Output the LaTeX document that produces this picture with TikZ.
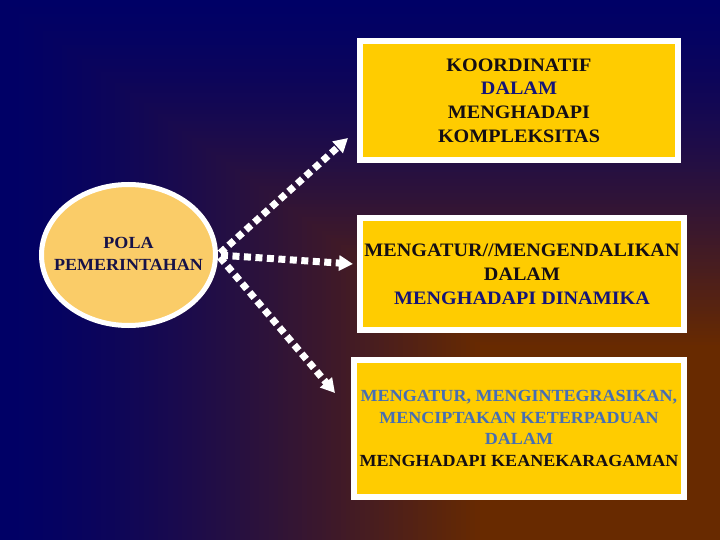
\documentclass[tikz,border=0pt]{standalone}
\usepackage{fontspec}
\setmainfont{Liberation Serif}
\newfontfamily\slidefont[FakeStretch=1.06]{Liberation Serif}
\usetikzlibrary{shapes.geometric,arrows.meta}
\definecolor{navybg}{RGB}{0,0,102}
\definecolor{brownbg}{RGB}{104,42,0}
\definecolor{boxyellow}{RGB}{255,204,0}
\definecolor{ellfill}{RGB}{250,204,104}
\definecolor{txtdark}{RGB}{20,14,20}
\definecolor{txtnavy}{RGB}{20,20,120}
\definecolor{txtblue}{RGB}{70,110,180}
\definecolor{txtpola}{RGB}{22,18,72}
\tikzset{
  infobox/.style={rectangle, draw=white, line width=6pt, fill=boxyellow, inner sep=0pt,
    align=center, text=txtdark, font=\slidefont\bfseries\fontsize{19}{23.7}\selectfont},
  polanode/.style={ellipse, draw=white, line width=5pt, fill=ellfill, inner sep=0pt},
  polatext/.style={align=center, inner sep=0pt, text=txtpola,
    font=\slidefont\bfseries\fontsize{17}{21.5}\selectfont},
  flow/.style={draw=white, line width=7pt, dash pattern=on 7pt off 4.5pt,
    -{Triangle[length=14pt 0, width=15pt 0]}, shorten <=3pt}
}
\begin{document}
\begin{tikzpicture}[x=1pt,y=-1pt]
\useasboundingbox (0,0) rectangle (720,540);
% background gradient
\fill[navybg] (0,0) rectangle (720,540);
\foreach \i in {1,...,100}{
  \pgfmathsetmacro\p{100*pow(\i/100,1.4)}
  \fill[brownbg!\p!navybg] ({4.8*\i},{3.45*\i}) rectangle (720,540);
}
% nodes
\node[polanode, minimum width=174pt, minimum height=141pt] (pola) at (128.5,255) {};
\node[polatext] (polalabel) at (128.5,254) {POLA\\PEMERINTAHAN};
\node[infobox, minimum width=318pt, minimum height=119pt] (b1) at (519,100.5)
  {KOORDINATIF\\\textcolor{txtnavy}{DALAM}\\MENGHADAPI\\KOMPLEKSITAS};
\node[infobox, minimum width=324pt, minimum height=112pt, font=\slidefont\bfseries\fontsize{19}{24}\selectfont] (b2) at (522,274)
  {MENGATUR//MENGENDALIKAN\\DALAM\\\textcolor{txtnavy}{MENGHADAPI DINAMIKA}};
\node[infobox, minimum width=330pt, minimum height=137pt, font=\slidefont\bfseries\fontsize{17}{21.5}\selectfont] (b3) at (519,428.5)
  {\textcolor{txtblue}{MENGATUR, MENGINTEGRASIKAN,}\\\textcolor{txtblue}{MENCIPTAKAN KETERPADUAN}\\\textcolor{txtblue}{DALAM}\\MENGHADAPI KEANEKARAGAMAN};
% arrows
\coordinate (tip1) at (348,138);
\coordinate (tip2) at (353,264);
\coordinate (tip3) at (335,393);
\draw[flow] (pola.east) -- (tip1);
\draw[flow] (pola.east) -- (tip2);
\draw[flow] (pola.east) -- (tip3);
\end{tikzpicture}
\end{document}
